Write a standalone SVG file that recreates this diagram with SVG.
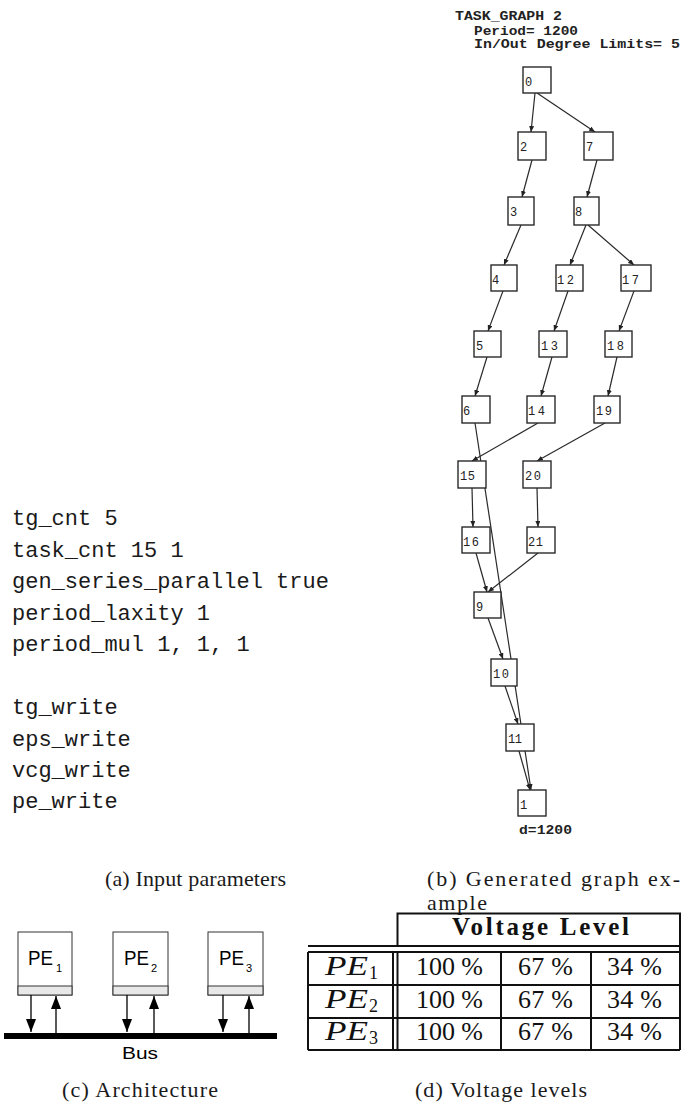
<svg xmlns="http://www.w3.org/2000/svg" width="692" height="1106" viewBox="0 0 692 1106">
<style>
.param{font-family:"Liberation Mono",monospace;font-size:22px;fill:#1a1a1a}
.cap{font-family:"Liberation Serif",serif;font-size:22px;fill:#1a1a1a}
.hdr{font-family:"Liberation Mono",monospace;font-size:12px;font-weight:bold;fill:#222}
.nbox{fill:#fff;stroke:#2a2a2a;stroke-width:1.4}
.nlab{font-family:"Liberation Mono",monospace;font-size:12px;fill:#222}
.edge{stroke:#2a2a2a;stroke-width:1.2;fill:none}
.pebox{fill:#fff;stroke:#333;stroke-width:1}
.pestrip{fill:#e8e8e8;stroke:#333;stroke-width:1}
.pelab{font-family:"Liberation Sans",Arial,sans-serif;font-size:20px;fill:#000}
.pesub{font-family:"Liberation Sans",Arial,sans-serif;font-size:11px;fill:#000}
.arr{stroke:#000;stroke-width:1.3;fill:none}
.tl{stroke:#111;stroke-width:2;fill:none}
.tv{font-family:"Liberation Serif",serif;font-size:26px;fill:#111}
.tpe{font-family:"Liberation Serif",serif;font-style:italic;font-size:27px;fill:#111}
.tsub{font-family:"Liberation Serif",serif;font-size:18px;fill:#111}
</style>
<defs>
<marker id="ah" markerWidth="6" markerHeight="5" refX="6" refY="2.5" orient="auto" markerUnits="userSpaceOnUse">
<path d="M0,0 L6,2.5 L0,5 z" fill="#222"/>
</marker>
<marker id="bh" markerWidth="13" markerHeight="10" refX="13" refY="5" orient="auto" markerUnits="userSpaceOnUse">
<path d="M0,0 L13,5 L0,10 z" fill="#000"/>
</marker>
</defs>
<rect width="692" height="1106" fill="#fff"/>

<g id="params">
<text class="param" x="12" y="525">tg_cnt 5</text>
<text class="param" x="12" y="557">task_cnt 15 1</text>
<text class="param" x="12" y="588">gen_series_parallel true</text>
<text class="param" x="12" y="620">period_laxity 1</text>
<text class="param" x="12" y="651">period_mul 1, 1, 1</text>
<text class="param" x="12" y="714">tg_write</text>
<text class="param" x="12" y="746">eps_write</text>
<text class="param" x="12" y="777">vcg_write</text>
<text class="param" x="12" y="808">pe_write</text>
</g>

<g id="graph-header">
<text class="hdr" x="455" y="20" textLength="107" lengthAdjust="spacingAndGlyphs">TASK_GRAPH 2</text>
<text class="hdr" x="474" y="35" textLength="104" lengthAdjust="spacingAndGlyphs">Period= 1200</text>
<text class="hdr" x="474" y="48" textLength="206" lengthAdjust="spacingAndGlyphs">In/Out Degree Limits= 5</text>
</g>

<g id="connectors">
<line class="edge" x1="535" y1="93" x2="531" y2="132" marker-end="url(#ah)"/>
<line class="edge" x1="537" y1="93" x2="595" y2="132" marker-end="url(#ah)"/>
<line class="edge" x1="532" y1="160" x2="522" y2="197" marker-end="url(#ah)"/>
<line class="edge" x1="597" y1="160" x2="587" y2="197" marker-end="url(#ah)"/>
<line class="edge" x1="521" y1="225" x2="504" y2="265" marker-end="url(#ah)"/>
<line class="edge" x1="586" y1="225" x2="570" y2="265" marker-end="url(#ah)"/>
<line class="edge" x1="588" y1="225" x2="634" y2="265" marker-end="url(#ah)"/>
<line class="edge" x1="503" y1="291" x2="488" y2="331" marker-end="url(#ah)"/>
<line class="edge" x1="568" y1="291" x2="554" y2="331" marker-end="url(#ah)"/>
<line class="edge" x1="634" y1="291" x2="619" y2="331" marker-end="url(#ah)"/>
<line class="edge" x1="487" y1="357" x2="475" y2="396" marker-end="url(#ah)"/>
<line class="edge" x1="552" y1="357" x2="541" y2="396" marker-end="url(#ah)"/>
<line class="edge" x1="617" y1="357" x2="608" y2="396" marker-end="url(#ah)"/>
<line class="edge" x1="538" y1="423" x2="472" y2="461" marker-end="url(#ah)"/>
<line class="edge" x1="605" y1="423" x2="537" y2="461" marker-end="url(#ah)"/>
<line class="edge" x1="472" y1="488" x2="473" y2="527" marker-end="url(#ah)"/>
<line class="edge" x1="537" y1="488" x2="538" y2="527" marker-end="url(#ah)"/>
<line class="edge" x1="476" y1="553" x2="487" y2="592" marker-end="url(#ah)"/>
<line class="edge" x1="538" y1="553" x2="488" y2="592" marker-end="url(#ah)"/>
<line class="edge" x1="488" y1="618" x2="503" y2="659" marker-end="url(#ah)"/>
<line class="edge" x1="505" y1="686" x2="518" y2="724" marker-end="url(#ah)"/>
<line class="edge" x1="519" y1="751" x2="530" y2="790" marker-end="url(#ah)"/>
<line class="edge" x1="475" y1="423" x2="531" y2="790" marker-end="url(#ah)"/>
</g>

<g id="n0"><rect class="nbox" x="523" y="67" width="28" height="26"/><text class="nlab" x="525" y="86">0</text></g>
<g id="n2"><rect class="nbox" x="518" y="132" width="28" height="28"/><text class="nlab" x="520" y="151">2</text></g>
<g id="n7"><rect class="nbox" x="584" y="132" width="29" height="28"/><text class="nlab" x="586" y="151">7</text></g>
<g id="n3"><rect class="nbox" x="508" y="197" width="26" height="28"/><text class="nlab" x="510" y="216">3</text></g>
<g id="n8"><rect class="nbox" x="574" y="197" width="25" height="28"/><text class="nlab" x="575" y="216">8</text></g>
<g id="n4"><rect class="nbox" x="491" y="265" width="26" height="26"/><text class="nlab" x="492" y="284">4</text></g>
<g id="n12"><rect class="nbox" x="556" y="265" width="27" height="26"/><text class="nlab" x="557" y="284" textLength="17" lengthAdjust="spacing">12</text></g>
<g id="n17"><rect class="nbox" x="621" y="265" width="30" height="26"/><text class="nlab" x="622" y="284" textLength="17" lengthAdjust="spacing">17</text></g>
<g id="n5"><rect class="nbox" x="474" y="331" width="27" height="26"/><text class="nlab" x="476" y="350">5</text></g>
<g id="n13"><rect class="nbox" x="539" y="331" width="28" height="26"/><text class="nlab" x="541" y="350" textLength="17" lengthAdjust="spacing">13</text></g>
<g id="n18"><rect class="nbox" x="605" y="331" width="27" height="26"/><text class="nlab" x="607" y="350" textLength="17" lengthAdjust="spacing">18</text></g>
<g id="n6"><rect class="nbox" x="462" y="396" width="28" height="27"/><text class="nlab" x="463" y="415">6</text></g>
<g id="n14"><rect class="nbox" x="527" y="396" width="28" height="27"/><text class="nlab" x="528" y="415" textLength="17" lengthAdjust="spacing">14</text></g>
<g id="n19"><rect class="nbox" x="594" y="396" width="26" height="27"/><text class="nlab" x="596" y="415" textLength="16" lengthAdjust="spacing">19</text></g>
<g id="n15"><rect class="nbox" x="458" y="461" width="28" height="27"/><text class="nlab" x="460" y="480" textLength="15" lengthAdjust="spacing">15</text></g>
<g id="n20"><rect class="nbox" x="523" y="461" width="28" height="27"/><text class="nlab" x="525" y="480" textLength="16" lengthAdjust="spacing">20</text></g>
<g id="n16"><rect class="nbox" x="462" y="527" width="28" height="26"/><text class="nlab" x="463" y="546" textLength="16" lengthAdjust="spacing">16</text></g>
<g id="n21"><rect class="nbox" x="527" y="527" width="28" height="26"/><text class="nlab" x="528" y="546" textLength="15" lengthAdjust="spacing">21</text></g>
<g id="n9"><rect class="nbox" x="474" y="592" width="27" height="26"/><text class="nlab" x="476" y="611">9</text></g>
<g id="n10"><rect class="nbox" x="491" y="659" width="26" height="27"/><text class="nlab" x="493" y="678" textLength="16" lengthAdjust="spacing">10</text></g>
<g id="n11"><rect class="nbox" x="506" y="724" width="28" height="27"/><text class="nlab" x="508" y="743" textLength="14" lengthAdjust="spacing">11</text></g>
<g id="n1"><rect class="nbox" x="518" y="790" width="28" height="26"/><text class="nlab" x="520" y="809">1</text></g>
<text class="hdr" x="519" y="834" textLength="53" lengthAdjust="spacingAndGlyphs">d=1200</text>

<g id="captions">
<text class="cap" x="105" y="886" textLength="181" lengthAdjust="spacing">(a) Input parameters</text>
<text class="cap" x="427" y="886" textLength="253" lengthAdjust="spacing">(b) Generated graph ex-</text>
<text class="cap" x="427" y="910" textLength="60" lengthAdjust="spacing">ample</text>
<text class="cap" x="62" y="1097" textLength="156" lengthAdjust="spacing">(c) Architecture</text>
<text class="cap" x="415" y="1097" textLength="172" lengthAdjust="spacing">(d) Voltage levels</text>
</g>

<g id="architecture">
<g id="pe1">
<rect class="pebox" x="18" y="932" width="54" height="63"/>
<rect class="pestrip" x="18" y="986" width="54" height="9"/>
<text class="pelab" x="28" y="965" textLength="25" lengthAdjust="spacingAndGlyphs">PE</text>
<text class="pesub" x="56" y="972">1</text>
</g>
<g id="pe2">
<rect class="pebox" x="113" y="932" width="55" height="63"/>
<rect class="pestrip" x="113" y="986" width="55" height="9"/>
<text class="pelab" x="124" y="965" textLength="25" lengthAdjust="spacingAndGlyphs">PE</text>
<text class="pesub" x="151" y="972">2</text>
</g>
<g id="pe3">
<rect class="pebox" x="208" y="932" width="55" height="63"/>
<rect class="pestrip" x="208" y="986" width="55" height="9"/>
<text class="pelab" x="219" y="965" textLength="25" lengthAdjust="spacingAndGlyphs">PE</text>
<text class="pesub" x="246" y="972">3</text>
</g>
<g id="bus">
<rect x="4" y="1033" width="273" height="6" fill="#000"/>
<text class="pelab" x="122" y="1059" style="font-size:17px" textLength="36" lengthAdjust="spacingAndGlyphs">Bus</text>
</g>
<g id="bus-arrows">
<line class="arr" x1="31" y1="995" x2="31" y2="1032" marker-end="url(#bh)"/>
<line class="arr" x1="56" y1="1033" x2="56" y2="996" marker-end="url(#bh)"/>
<line class="arr" x1="127" y1="995" x2="127" y2="1032" marker-end="url(#bh)"/>
<line class="arr" x1="154" y1="1033" x2="154" y2="996" marker-end="url(#bh)"/>
<line class="arr" x1="223" y1="995" x2="223" y2="1032" marker-end="url(#bh)"/>
<line class="arr" x1="249" y1="1033" x2="249" y2="996" marker-end="url(#bh)"/>
</g>
</g>

<g id="voltage-table">
<path class="tl" d="M397.5,946 V913.5 H680 V1050"/>
<line class="tl" x1="308" y1="946" x2="680" y2="946"/>
<line class="tl" x1="308" y1="952" x2="680" y2="952"/>
<line class="tl" x1="308" y1="985" x2="680" y2="985"/>
<line class="tl" x1="308" y1="1018" x2="680" y2="1018"/>
<line class="tl" x1="308" y1="1050" x2="680" y2="1050"/>
<line class="tl" x1="308" y1="952" x2="308" y2="1050"/>
<line class="tl" x1="393" y1="952" x2="393" y2="1050"/>
<line class="tl" x1="397.5" y1="952" x2="397.5" y2="1050"/>
<line class="tl" x1="501" y1="952" x2="501" y2="1050"/>
<line class="tl" x1="591" y1="952" x2="591" y2="1050"/>
<text x="452" y="935" font-family="Liberation Serif, serif" font-weight="bold" font-size="25" fill="#111" textLength="177" lengthAdjust="spacing">Voltage Level</text>
<text class="tpe" x="325" y="975" textLength="43" lengthAdjust="spacingAndGlyphs">PE</text><text class="tsub" x="369" y="979">1</text>
<text class="tpe" x="325" y="1008" textLength="43" lengthAdjust="spacingAndGlyphs">PE</text><text class="tsub" x="369" y="1012">2</text>
<text class="tpe" x="325" y="1040" textLength="43" lengthAdjust="spacingAndGlyphs">PE</text><text class="tsub" x="369" y="1044">3</text>
<text class="tv" x="416" y="975" textLength="67" lengthAdjust="spacing">100 %</text>
<text class="tv" x="518" y="975" textLength="55" lengthAdjust="spacing">67 %</text>
<text class="tv" x="607" y="975" textLength="55" lengthAdjust="spacing">34 %</text>
<text class="tv" x="416" y="1008" textLength="67" lengthAdjust="spacing">100 %</text>
<text class="tv" x="518" y="1008" textLength="55" lengthAdjust="spacing">67 %</text>
<text class="tv" x="607" y="1008" textLength="55" lengthAdjust="spacing">34 %</text>
<text class="tv" x="416" y="1040" textLength="67" lengthAdjust="spacing">100 %</text>
<text class="tv" x="518" y="1040" textLength="55" lengthAdjust="spacing">67 %</text>
<text class="tv" x="607" y="1040" textLength="55" lengthAdjust="spacing">34 %</text>
</g>
</svg>
